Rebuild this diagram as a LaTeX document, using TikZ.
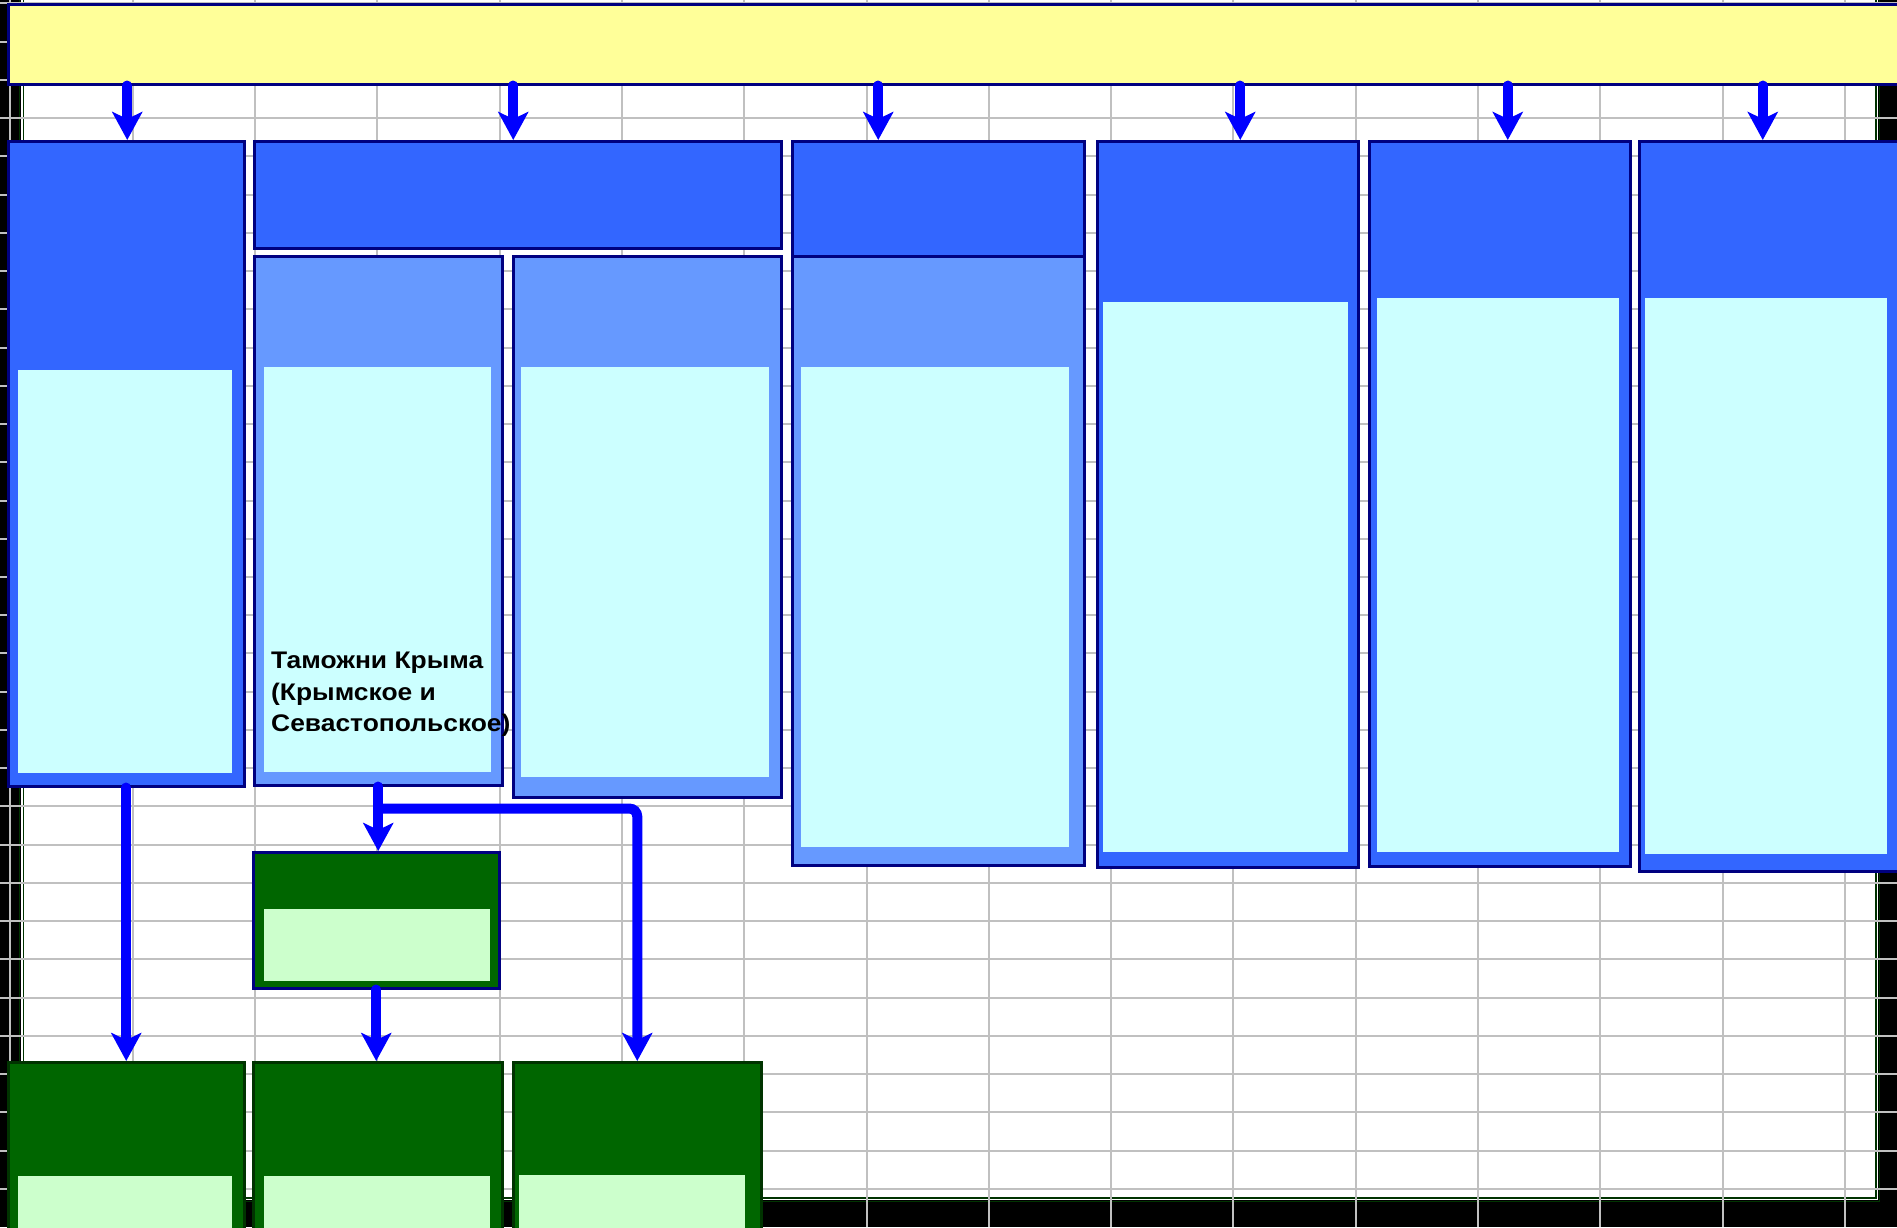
\documentclass[tikz,border=0pt]{standalone}
\usepackage{fontspec}
\setmainfont{Liberation Sans}
\newfontfamily\wideface[FakeStretch=1.1]{Liberation Sans}
\usetikzlibrary{arrows.meta,calc}
\definecolor{navy}{HTML}{000080}
\definecolor{deepblue}{HTML}{3366FF}
\definecolor{midblue}{HTML}{6699FF}
\definecolor{paleblue}{HTML}{CCFFFF}
\definecolor{lemon}{HTML}{FFFF99}
\definecolor{darkgreen}{HTML}{006600}
\definecolor{palegreen}{HTML}{CCFFCC}
\definecolor{arrowblue}{HTML}{0000FF}
\definecolor{gridgray}{HTML}{C0C0C0}
\definecolor{edgegreen}{HTML}{003300}
\begin{document}
\begin{tikzpicture}[x=1pt,y=-1pt,box/.style={draw=navy,line width=2.5pt,anchor=north west,inner sep=0pt},gbox/.style={box,draw=edgegreen,fill=darkgreen},gridline/.style={draw=gridgray,line width=2pt},arr/.style={draw=arrowblue,line width=10pt,line cap=round,-{Stealth[length=28pt,width=30pt,inset=7pt]}}]
\clip (0,0) rectangle (1897,1227);
% sheet and frame
\fill[black] (0,0) rectangle (1897,1227);
\fill[white] (21,-5) rectangle (1878,1200);
\draw[edgegreen,line width=1.6pt] (23.5,-5) rectangle (1876,1198);
\draw[edgegreen,line width=1.6pt] (19.5,-5) rectangle (1879.5,1201.5);
\foreach \i in {0,...,15} \draw[gridline] ({10.4+122.3*\i},0) -- ({10.4+122.3*\i},1227);
\foreach \j in {0,...,31} \draw[gridline] (0,{3.4+38.24*\j}) -- (1897,{3.4+38.24*\j});
% top bar
\node[box,fill=lemon,minimum width=1900pt,minimum height=80pt] (top) at (7,3) {};
% blue columns
\node[box,fill=deepblue,minimum width=236pt,minimum height=645pt] (b1) at (7,140) {};
\fill[paleblue] (18,370) rectangle (232,773);
\node[box,fill=deepblue,minimum width=527pt,minimum height=107pt] (h2) at (253,140) {};
\node[box,fill=midblue,minimum width=248pt,minimum height=529pt] (b2a) at (253,255) {};
\fill[paleblue] (264,367) rectangle (491,772);
\node[box,fill=midblue,minimum width=268pt,minimum height=541pt] (b2b) at (512,255) {};
\fill[paleblue] (521,367) rectangle (769,777);
\node[box,fill=deepblue,minimum width=292pt,minimum height=115pt] (h3) at (791,140) {};
\node[box,fill=midblue,minimum width=292pt,minimum height=609pt] (b3) at (791,255) {};
\fill[paleblue] (801,367) rectangle (1069,847);
\node[box,fill=deepblue,minimum width=261pt,minimum height=726pt] (b4) at (1096,140) {};
\fill[paleblue] (1103,302) rectangle (1348,852);
\node[box,fill=deepblue,minimum width=261pt,minimum height=725pt] (b5) at (1368,140) {};
\fill[paleblue] (1377,298) rectangle (1619,852);
\node[box,fill=deepblue,minimum width=265pt,minimum height=730pt] (b6) at (1638,140) {};
\fill[paleblue] (1645,298) rectangle (1887,854);
% green boxes
\node[gbox,draw=navy,minimum width=246pt,minimum height=136pt] (m) at (252,851) {};
\fill[palegreen] (264,909) rectangle (490,981);
\node[gbox,minimum width=236pt,minimum height=180pt] (g1) at (7,1061) {};
\fill[palegreen] (18,1176) rectangle (232,1241);
\node[gbox,minimum width=249pt,minimum height=180pt] (g2) at (252,1061) {};
\fill[palegreen] (264,1176) rectangle (490,1241);
\node[gbox,minimum width=248pt,minimum height=180pt] (g3) at (512,1061) {};
\fill[palegreen] (519,1175) rectangle (745,1241);
% arrows
\foreach \n/\dx in {b1/1,h2/-4.5,h3/-60,b4/12.5,b5/8,b6/-9}{
  \coordinate (t\n) at ($(\n.north)+(\dx,0)$);
  \draw[arr] (top.south -| t\n) -- (t\n);
}
\coordinate (split) at ($(b2a.south)+(0,22)$);
\draw[arr] (b1.south) -- (g1.north);
\draw[arr] (b2a.south) -- (b2a.south |- m.north);
\draw[arr,rounded corners=8pt] (split) -| (g3.north);
\draw[arr] (m.south) -- (m.south |- g2.north);
\node[anchor=north west,inner sep=0pt,align=left,font=\wideface\bfseries\fontsize{24}{31.5}\selectfont] (lbl) at (271,652) {Таможни Крыма\\(Крымское и\\Севастопольское)};
\end{tikzpicture}
\end{document}
